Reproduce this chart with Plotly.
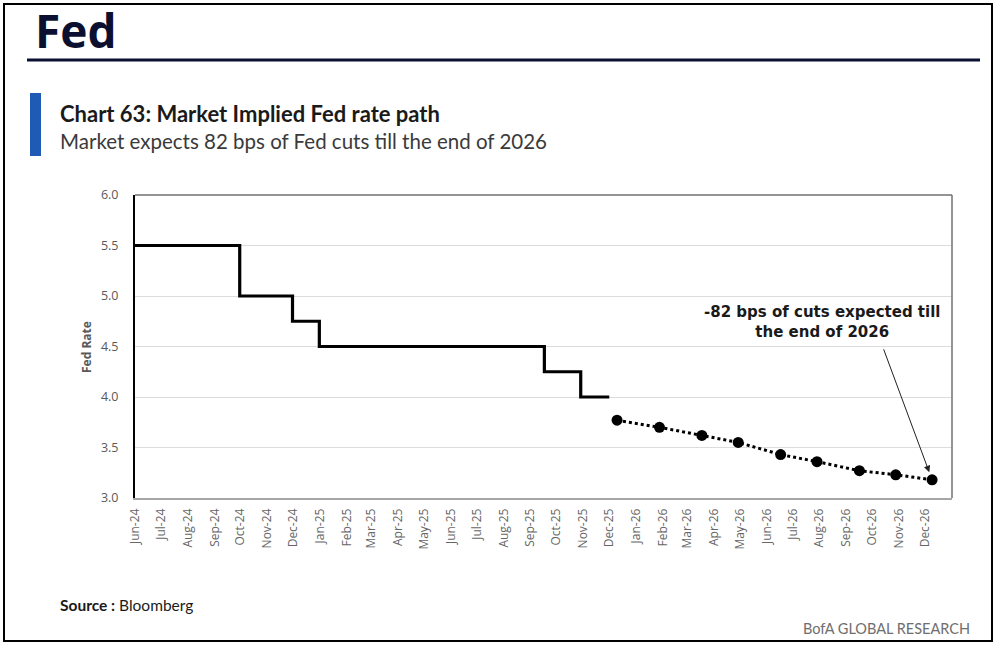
import plotly.graph_objects as go

# ---------------- data ----------------
actual_dates = ["2024-06-01", "2024-09-30", "2024-11-30", "2024-12-31",
                "2025-09-17", "2025-10-29", "2025-12-01"]
actual_rates = [5.5, 5.0, 4.75, 4.5, 4.25, 4.0, 4.0]

implied_dates = ["2025-12-10", "2026-01-28", "2026-03-18", "2026-04-29",
                 "2026-06-17", "2026-07-29", "2026-09-16", "2026-10-28",
                 "2026-12-09"]
implied_rates = [3.77, 3.70, 3.62, 3.55, 3.43, 3.36, 3.27, 3.23, 3.18]

tick_months = ["2024-06-01", "2024-07-01", "2024-08-01", "2024-09-01", "2024-10-01",
               "2024-11-01", "2024-12-01", "2025-01-01", "2025-02-01", "2025-03-01",
               "2025-04-01", "2025-05-01", "2025-06-01", "2025-07-01", "2025-08-01",
               "2025-09-01", "2025-10-01", "2025-11-01", "2025-12-01", "2026-01-01",
               "2026-02-01", "2026-03-01", "2026-04-01", "2026-05-01", "2026-06-01",
               "2026-07-01", "2026-08-01", "2026-09-01", "2026-10-01", "2026-11-01",
               "2026-12-01"]
y_ticks = [3.0, 3.5, 4.0, 4.5, 5.0, 5.5, 6.0]

# ---------------- layout geometry ----------------
W, H = 996, 648
L, R, T, B = 135, 952, 195, 498


def px(x):
    return (x - L) / (R - L)


def py(y):
    return (B - y) / (B - T)


fig = go.Figure()

fig.add_trace(go.Scatter(
    x=actual_dates, y=actual_rates, mode="lines",
    line=dict(color="black", width=3.2, shape="hv"),
    showlegend=False, hoverinfo="skip"))

fig.add_trace(go.Scatter(
    x=implied_dates, y=implied_rates, mode="lines+markers",
    line=dict(color="black", width=3, dash="dot"),
    marker=dict(color="black", size=11),
    showlegend=False))

grey = "#595959"
fig.update_layout(
    width=W, height=H,
    margin=dict(l=L, r=W - R, t=T, b=H - B),
    paper_bgcolor="white", plot_bgcolor="white",
    font=dict(family="Open Sans", color=grey),
    xaxis=dict(
        type="date", range=["2024-06-01", "2027-01-01"],
        tickvals=tick_months, tickformat="%b-%y", tickangle=-90,
        tickfont=dict(size=12, color="#666666", family="Open Sans"),
        showgrid=False, zeroline=False, showline=True,
        linecolor="#a6a6a6", linewidth=1.5, ticks="",
        ticklabelstandoff=4,
    ),
    yaxis=dict(
        range=[3.0, 6.0], tickvals=y_ticks, tickformat=".1f",
        tickfont=dict(size=12.5, color=grey, family="Open Sans"),
        showgrid=True, gridcolor="#dcdcdc", gridwidth=1,
        zeroline=False, showline=True, linecolor="black", linewidth=2,
        ticks="", ticklabelstandoff=12,
    ),
)

shapes = []
# plot frame (top and right)
shapes.append(dict(type="line", xref="paper", yref="paper", x0=0, x1=1, y0=1, y1=1,
                   line=dict(color="#707070", width=1.5)))
shapes.append(dict(type="line", xref="paper", yref="paper", x0=1, x1=1, y0=0, y1=1,
                   line=dict(color="#707070", width=1.5)))
# outer page border
shapes.append(dict(type="rect", xref="paper", yref="paper",
                   x0=px(4), x1=px(992), y0=py(641), y1=py(4),
                   line=dict(color="black", width=2), layer="below"))
# rule under "Fed"
shapes.append(dict(type="line", xref="paper", yref="paper",
                   x0=px(27), x1=px(980), y0=py(60), y1=py(60),
                   line=dict(color="#0b1030", width=3)))
# blue bar
shapes.append(dict(type="rect", xref="paper", yref="paper",
                   x0=px(30), x1=px(41), y0=py(156), y1=py(93),
                   fillcolor="#1f5bb5", line=dict(width=0)))
fig.update_layout(shapes=shapes)

ann = []
ann.append(dict(text="<b>Fed</b>", xref="paper", yref="paper", x=px(33), y=py(30),
                xanchor="left", yanchor="middle", showarrow=False,
                font=dict(family="Open Sans", size=46, color="#0b1030")))
ann.append(dict(text="<b>Chart 63: Market Implied Fed rate path</b>", xref="paper", yref="paper",
                x=px(58), y=py(113), xanchor="left", yanchor="middle", showarrow=False,
                font=dict(family="Lato", size=22, color="#1a1a1a")))
ann.append(dict(text="Market expects 82 bps of Fed cuts till the end of 2026", xref="paper",
                yref="paper", x=px(58), y=py(141), xanchor="left", yanchor="middle",
                showarrow=False, font=dict(family="Lato", size=20.5, color="#3a3a3a")))
ann.append(dict(text="<b>Fed Rate</b>", xref="paper", yref="paper", x=px(86), y=py(347),
                xanchor="center", yanchor="middle", textangle=-90, showarrow=False,
                font=dict(family="Open Sans", size=12, color=grey)))
ann.append(dict(text="<b>Source :</b> Bloomberg", xref="paper", yref="paper",
                x=px(58), y=py(605), xanchor="left", yanchor="middle", showarrow=False,
                font=dict(family="Lato", size=15.5, color="#1a1a1a")))
ann.append(dict(text="BofA GLOBAL RESEARCH", xref="paper", yref="paper",
                x=px(972), y=py(628), xanchor="right", yanchor="middle", showarrow=False,
                font=dict(family="Lato", size=14.5, color="#6e6e6e")))
ann.append(dict(text="<b>-82 bps of cuts expected till<br>the end of 2026</b>", xref="paper",
                yref="paper", x=px(822), y=py(322), xanchor="center", yanchor="middle",
                showarrow=False, align="center",
                font=dict(family="DejaVu Sans", size=15, color="#1a1a1a")))
# arrow pointing at the last implied point
ann.append(dict(text="", x=implied_dates[-1], y=implied_rates[-1], xref="x", yref="y",
                showarrow=True, arrowhead=2, arrowsize=1.3, arrowwidth=1, arrowcolor="#222222",
                ax=-49, ay=-132, standoff=8))
fig.update_layout(annotations=ann)

fig.write_html("out.html", config={"displayModeBar": False},
               post_script="document.body.style.margin='0';document.body.style.overflow='hidden';")
